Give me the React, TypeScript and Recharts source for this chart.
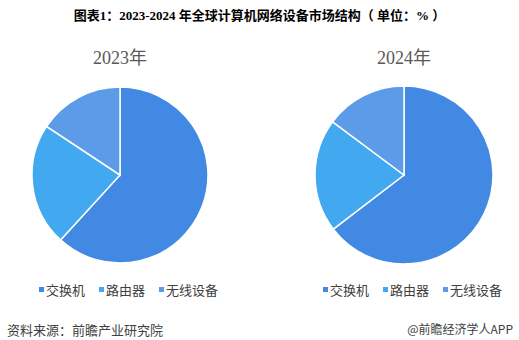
import { PieChart, Pie, Cell } from 'recharts';

const categories = ['交换机', '路由器', '无线设备'];
const share2023 = [61.8, 22.5, 15.7];
const share2024 = [64.6, 20.6, 14.8];
const years = ['2023年', '2024年'];

const colors = ['#4189E3', '#42A9F1', '#5B9BE8'];

const toRows = (vals: number[]) => categories.map((name, i) => ({ name, value: vals[i] }));

const cjk = "'Noto Sans CJK SC', 'Noto Sans', sans-serif";
const serif = "'Liberation Serif', 'Times New Roman', 'Noto Sans CJK SC', serif";

function YearPie({ vals, year, left, cx, r }: { vals: number[]; year: string; left: number; cx: number; r: number }) {
  return (
    <div style={{ position: 'absolute', left, top: 40, width: 260, height: 270 }}>
      <div
        style={{
          position: 'absolute',
          left: cx - 60,
          width: 120,
          top: 8,
          textAlign: 'center',
          fontFamily: serif,
          fontSize: 18,
          color: '#595959',
          lineHeight: '20px',
        }}
      >
        {year}
      </div>
      <PieChart width={260} height={240} margin={{ top: 0, right: 0, bottom: 0, left: 0 }}>
        <Pie
          data={toRows(vals)}
          dataKey="value"
          nameKey="name"
          cx={cx}
          cy={135}
          outerRadius={r}
          startAngle={90}
          endAngle={-270}
          stroke="#ffffff"
          strokeWidth={1.5}
          isAnimationActive={false}
        >
          {categories.map((c, i) => (
            <Cell key={c} fill={colors[i]} />
          ))}
        </Pie>
      </PieChart>
      <div style={{ position: 'absolute', top: 240, left: cx - 81, display: 'flex', fontFamily: cjk, fontSize: 13, color: '#404040' }}>
        {categories.map((c, i) => (
          <div key={c} style={{ display: 'flex', alignItems: 'center', marginRight: i < 2 ? 14 : 0 }}>
            <span style={{ width: 5, height: 5, background: colors[i], marginRight: 2, display: 'inline-block' }} />
            <span>{c}</span>
          </div>
        ))}
      </div>
    </div>
  );
}

export default function App() {
  return (
    <div style={{ position: 'absolute', left: 0, top: 0, width: 519, height: 340, background: '#fff', overflow: 'hidden' }}>
      <div
        style={{
          position: 'absolute',
          top: 5,
          width: 519,
          textAlign: 'center',
          fontFamily: serif,
          fontWeight: 'bold',
          fontSize: 13,
          color: '#000',
        }}
      >
        图表1：2023-2024 年全球计算机网络设备市场结构（ 单位：% ）
      </div>
      <YearPie vals={share2023} year={years[0]} left={0} cx={120} r={88} />
      <YearPie vals={share2024} year={years[1]} left={260} cx={144} r={89} />
      <div style={{ position: 'absolute', left: 7, top: 320, fontFamily: cjk, fontSize: 13, color: '#404040' }}>
        资料来源：前瞻产业研究院
      </div>
      <div style={{ position: 'absolute', right: 6, top: 320, fontFamily: cjk, fontSize: 12, color: '#404040' }}>
        @前瞻经济学人APP
      </div>
    </div>
  );
}
